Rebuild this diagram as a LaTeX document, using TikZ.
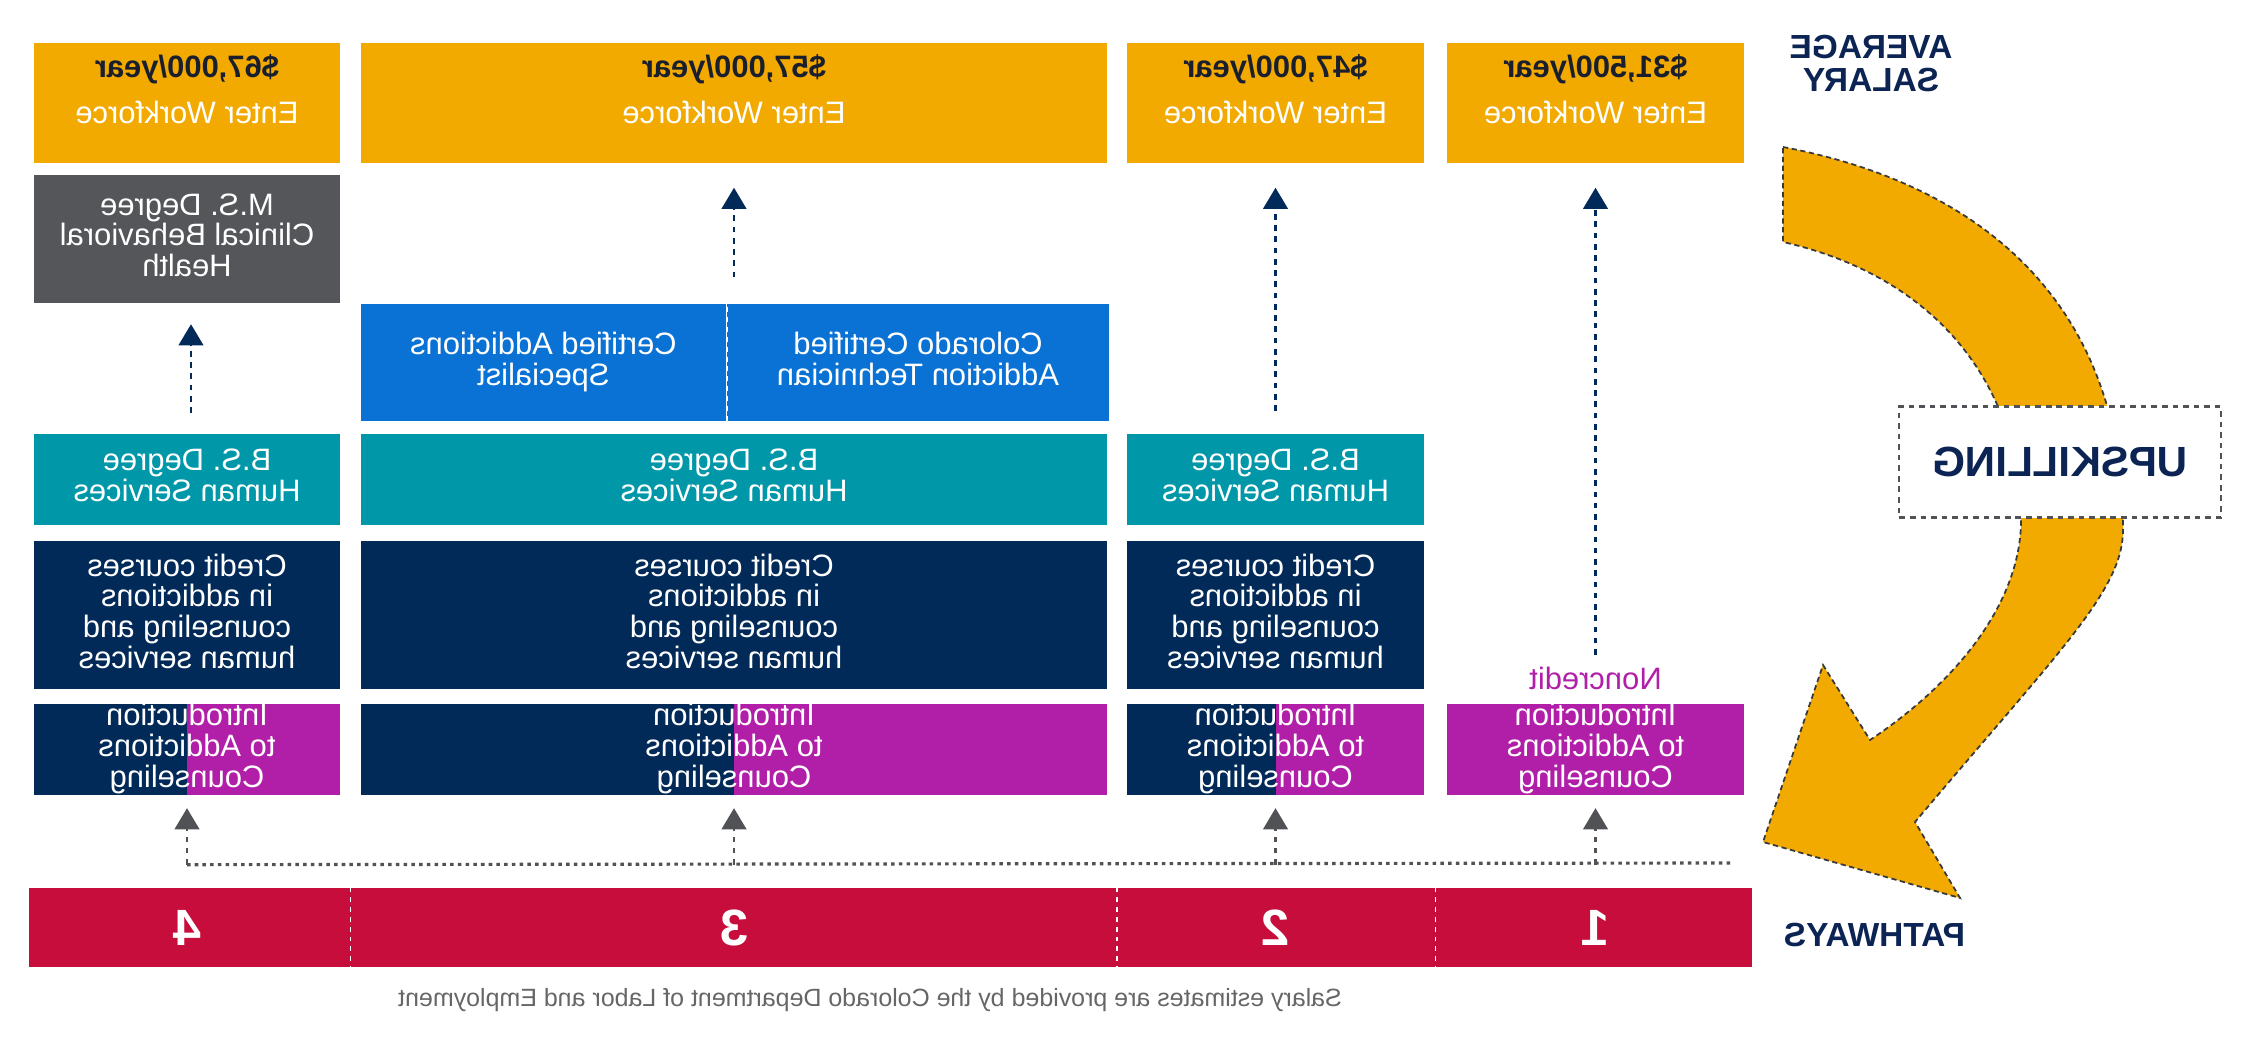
\documentclass[tikz,border=0pt]{standalone}
\usepackage{fontspec}
\setmainfont{Liberation Sans}
\usepackage{graphicx}
\usetikzlibrary{positioning}
\usetikzlibrary{arrows.meta}
\usetikzlibrary{calc}

\definecolor{payorange}{HTML}{F2A900}
\definecolor{msgrey}{HTML}{54565A}
\definecolor{certblue}{HTML}{0A72D4}
\definecolor{bsteal}{HTML}{0098A9}
\definecolor{crednavy}{HTML}{012A58}
\definecolor{intromag}{HTML}{B11FA9}
\definecolor{pathred}{HTML}{C60D3B}
\definecolor{inknavy}{HTML}{0C2454}
\definecolor{saltext}{HTML}{1A1F2E}
\definecolor{linegrey}{HTML}{505256}

% mirrored, centred lines
\newcommand{\mirr}[1]{\reflectbox{\begin{tabular}{@{}c@{}}#1\end{tabular}}}

\tikzset{box/.style={inner sep=0pt, text=white}}
\tikzset{pay/.style={box, fill=payorange, minimum height=1.2cm}}
\tikzset{paytext/.style={inner sep=0pt, text=white}}
\tikzset{msdeg/.style={box, fill=msgrey, minimum width=3.06cm, minimum height=1.27cm}}
\tikzset{cert/.style={box, fill=certblue, minimum height=1.17cm}}
\tikzset{bsdeg/.style={box, fill=bsteal, minimum height=0.91cm}}
\tikzset{credit/.style={box, fill=crednavy, minimum height=1.48cm}}
\tikzset{intro/.style={box, fill=intromag, minimum height=0.91cm}}
\tikzset{intro split/.style={intro, path picture={\fill[crednavy] (path picture bounding box.north west) rectangle (path picture bounding box.south);}}}
\tikzset{pathnum/.style={inner sep=0pt, text=white, font=\fontsize{14.5}{14.5}\selectfont\bfseries}}
\tikzset{upedge/.style={draw=crednavy, line width=0.6pt, dash pattern=on 1.6pt off 1.6pt, -{Triangle[width=7pt,length=6pt]}}}
\tikzset{lowedge/.style={draw=linegrey, line width=0.6pt, dash pattern=on 1.6pt off 1.6pt, -{Triangle[width=7pt,length=6pt]}}}
\tikzset{divider/.style={draw=white, line width=0.5pt, dash pattern=on 1.4pt off 1.4pt}}
\tikzset{sidehead/.style={inner sep=0pt, text=inknavy, font=\fontsize{9.5}{8.6}\selectfont\bfseries}}

\begin{document}
\begin{tikzpicture}[x=0.01cm, y=-0.01cm, font=\fontsize{8.8}{7.8}\selectfont]
        \useasboundingbox (0,0) rectangle (2255,1046);

        % salaries
        \node[pay, minimum width=3.06cm] (pay4) at (187,103) {};
        \node[pay, minimum width=7.46cm] (pay3) at (734,103) {};
        \node[pay, minimum width=2.97cm] (pay2) at (1275.5,103) {};
        \node[pay, minimum width=2.97cm] (pay1) at (1595.5,103) {};

        \node[paytext] (w4) at ($(pay4)+(0,-10)$) {\mirr{\textbf{\color{saltext}\$67,000/year}\\[4.4pt]Enter Workforce}};
        \node[paytext] (w3) at ($(pay3)+(0,-10)$) {\mirr{\textbf{\color{saltext}\$57,000/year}\\[4.4pt]Enter Workforce}};
        \node[paytext] (w2) at ($(pay2)+(0,-10)$) {\mirr{\textbf{\color{saltext}\$47,000/year}\\[4.4pt]Enter Workforce}};
        \node[paytext] (w1) at ($(pay1)+(0,-10)$) {\mirr{\textbf{\color{saltext}\$31,500/year}\\[4.4pt]Enter Workforce}};

        % pathway columns, bottom up
        \node[intro split, minimum width=3.06cm] (i4) at (187,749.5) {\mirr{Introduction\\to Addictions\\Counseling}};
        \node[intro split, minimum width=7.46cm] (i3) at (734,749.5) {\mirr{Introduction\\to Addictions\\Counseling}};
        \node[intro split, minimum width=2.97cm] (i2) at (1275.5,749.5) {\mirr{Introduction\\to Addictions\\Counseling}};
        \node[intro, minimum width=2.97cm] (i1) at (1595.5,749.5) {\mirr{Introduction\\to Addictions\\Counseling}};

        \node[credit, minimum width=3.06cm, above=0.13cm of i4] (c4) {\mirr{Credit courses\\in addictions\\counseling and\\human services}};
        \node[credit, minimum width=7.46cm, above=0.13cm of i3] (c3) {\mirr{Credit courses\\in addictions\\counseling and\\human services}};
        \node[credit, minimum width=2.97cm, above=0.13cm of i2] (c2) {\mirr{Credit courses\\in addictions\\counseling and\\human services}};

        \node[bsdeg, minimum width=3.06cm, above=0.15cm of c4] (bs4) {\mirr{B.S. Degree\\Human Services}};
        \node[bsdeg, minimum width=7.46cm, above=0.15cm of c3] (bs3) {\mirr{B.S. Degree\\Human Services}};
        \node[bsdeg, minimum width=2.97cm, above=0.15cm of c2] (bs2) {\mirr{B.S. Degree\\Human Services}};

        \node[cert, minimum width=3.65cm, above=0.11cm of bs3.north west, anchor=south west] (certL) {\mirr{Certified Addictions\\Specialist}};
        \node[cert, minimum width=3.81cm, right=0pt of certL] (certR) {\mirr{Colorado Certified\\Addiction Technician}};
        \draw[divider] ($(certL.north east)+(0,4)$) -- (certL.south east);

        \node[msdeg, below=0.11cm of pay4] (ms4) {\mirr{M.S. Degree\\Clinical Behavioral\\Health}};

        \node[inner sep=0pt, text=intromag, above=0.12cm of i1] (nc) {\reflectbox{Noncredit}};

        \draw[upedge, shorten <=0.2cm, shorten >=0.21cm] ($(bs4.north)+(4,0)$) -- ($(ms4.south)+(4,0)$);
        \draw[upedge, shorten <=0.26cm, shorten >=0.24cm] (pay3.south |- certL.north) -- (pay3.south);
        \draw[upedge, shorten <=0.22cm, shorten >=0.24cm] (bs2.north) -- (pay2.south);
        \draw[upedge, shorten <=0.12cm, shorten >=0.24cm] (nc.north) -- (pay1.south);

        % entry line
        \coordinate (busL) at ($(i4.south)+(0,68.5)$);
        \coordinate (busR) at (1734,863);
        \draw[linegrey, line width=0.9pt, dash pattern=on 1pt off 1.2pt] (busL) -- (busR);
        \draw[lowedge, shorten >=0.12cm] (busL) -- (i4.south);
        \draw[lowedge, shorten >=0.12cm] (i3.south |- busL) -- (i3.south);
        \draw[lowedge, shorten >=0.12cm] (i2.south |- busL) -- (i2.south);
        \draw[lowedge, shorten >=0.12cm] (i1.south |- busL) -- (i1.south);

        % pathways bar
        \node[fill=pathred, minimum width=17.22cm, minimum height=0.79cm, inner sep=0pt] (bar) at (890,927.5) {};
        \node[pathnum] (n4) at (pay4 |- bar) {\reflectbox{4}};
        \node[pathnum] (n3) at (pay3 |- bar) {\reflectbox{3}};
        \node[pathnum] (n2) at (pay2 |- bar) {\reflectbox{2}};
        \node[pathnum] (n1) at (pay1 |- bar) {\reflectbox{1}};
        \coordinate (g43) at ($(pay4.east)!0.5!(pay3.west)$);
        \coordinate (g32) at ($(pay3.east)!0.5!(pay2.west)$);
        \coordinate (g21) at ($(pay2.east)!0.5!(pay1.west)$);
        \draw[divider] (g43 |- bar.north) -- (g43 |- bar.south);
        \draw[divider] (g32 |- bar.north) -- (g32 |- bar.south);
        \draw[divider] (g21 |- bar.north) -- (g21 |- bar.south);

        \node[sidehead, right=0.31cm of bar, yshift=-0.07cm] (pw) {\reflectbox{PATHWAYS}};
        \node[sidehead] (avg) at (1871,68) {\mirr{AVERAGE\\SALARY}};

        % upskilling arrow
        \filldraw[fill=payorange, draw=linegrey!70!black, line width=0.5pt, dash pattern=on 1.5pt off 1pt]
          (1783,147) .. controls (2010,190) and (2125,330) .. (2123,530)
          .. controls (2123,590) and (2060,650) .. (1915,822)
          -- (1960,898) -- (1763,842) -- (1823,665) -- (1870,740)
          .. controls (1960,680) and (2021,600) .. (2021,520)
          .. controls (2021,400) and (1950,280) .. (1783,242) -- cycle;
        \node[draw=linegrey, fill=white, line width=0.6pt, dash pattern=on 1.6pt off 1.4pt, minimum width=3.21cm, minimum height=1.11cm, text=inknavy, font=\fontsize{12}{12}\selectfont\bfseries] (up) at (2060,462) {\reflectbox{UPSKILLING}};

        \node[text=black!60, font=\fontsize{7.1}{8}\selectfont] (src) at (870,1000) {\reflectbox{Salary estimates are provided by the Colorado Department of Labor and Employment}};
    \end{tikzpicture}
\end{document}
